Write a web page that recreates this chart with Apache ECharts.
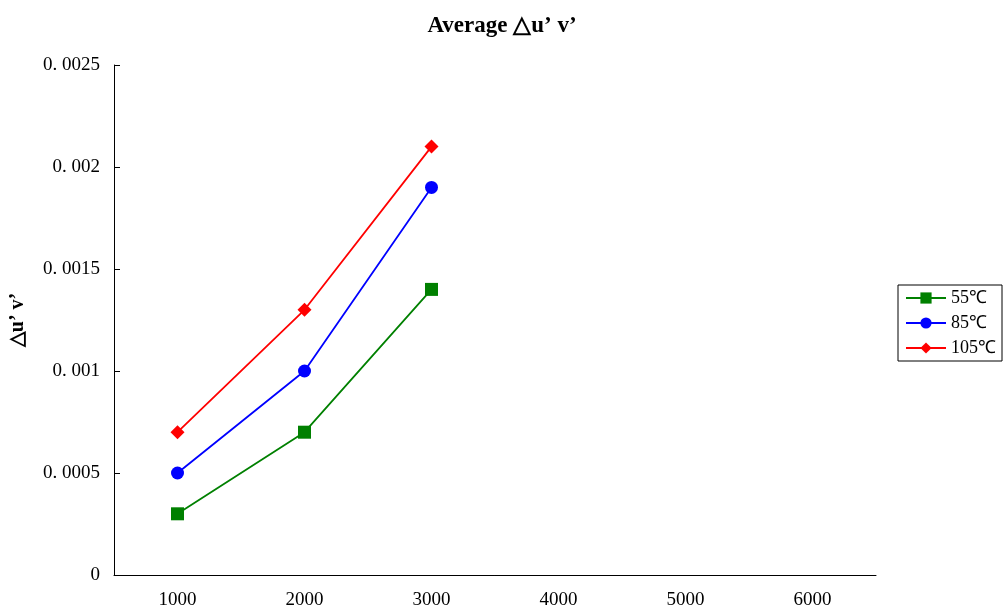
<!DOCTYPE html>
<html>
<head>
<meta charset="utf-8">
<script src="https://cdn.jsdelivr.net/npm/echarts@6/dist/echarts.min.js"></script>
<style>html,body{margin:0;padding:0;background:#fff;}#c{width:1004px;height:613px;}</style>
</head>
<body>
<div id="c"></div>
<script>
var categories = ['1000', '2000', '3000', '4000', '5000', '6000'];
var s55 = [0.0003, 0.0007, 0.0014];
var s85 = [0.0005, 0.001, 0.0019];
var s105 = [0.0007, 0.0013, 0.0021];
var seriesNames = ['55℃', '85℃', '105℃'];
var yTicks = [0, 0.0005, 0.001, 0.0015, 0.002, 0.0025];
var yTickLabels = ['0', '0. 0005', '0. 001', '0. 0015', '0. 002', '0. 0025'];

var font = 'Liberation Serif';
var chart = echarts.init(document.getElementById('c'));
function mk(name, data, color, symbol, size) {
  return {
    name: name, type: 'line', data: data, symbol: symbol, symbolSize: size,
    lineStyle: {color: color, width: 1.8}, itemStyle: {color: color},
    emphasis: {disabled: true}, animation: false
  };
}
chart.setOption({
  animation: false,
  title: {
    text: 'Average △u’ v’', left: 'center', top: 10,
    textStyle: {fontFamily: font, fontSize: 23, fontWeight: 'bold', color: '#000'}
  },
  legend: {
    orient: 'vertical', left: 898, top: 285, itemGap: 7, padding: [4, 6, 4, 7],
    borderColor: '#000', borderWidth: 1, itemWidth: 40, itemHeight: 14,
    textStyle: {fontFamily: font, fontSize: 18, color: '#000', lineHeight: 18},
    data: seriesNames
  },
  grid: {left: 114, right: 128, top: 65, bottom: 38, containLabel: false, outerBoundsMode: 'none'},
  xAxis: {
    type: 'category', data: categories, boundaryGap: true,
    axisLine: {lineStyle: {color: '#000', width: 1}},
    axisTick: {inside: true, length: 6, lineStyle: {color: '#000'}},
    axisLabel: {fontFamily: font, fontSize: 19, color: '#000', margin: 16},
    splitLine: {show: false}
  },
  yAxis: {
    type: 'value', min: 0, max: 0.0025, interval: 0.0005,
    name: '△u’ v’', nameLocation: 'middle', nameGap: 86, nameRotate: 90,
    nameTextStyle: {fontFamily: font, fontSize: 20, fontWeight: 'bold', color: '#000'},
    axisLine: {show: true, lineStyle: {color: '#000', width: 1}},
    axisTick: {show: true, inside: true, length: 6, lineStyle: {color: '#000'}},
    axisLabel: {fontFamily: font, fontSize: 19, color: '#000', margin: 14,
      formatter: function (v) {
        for (var i = 0; i < yTicks.length; i++) if (Math.abs(yTicks[i] - v) < 1e-9) return yTickLabels[i];
        return '';
      }},
    splitLine: {show: false}
  },
  series: [
    mk(seriesNames[0], s55, '#008000', 'rect', 13),
    mk(seriesNames[1], s85, '#0000FF', 'circle', 13),
    mk(seriesNames[2], s105, '#FF0000', 'diamond', 14)
  ]
});
</script>
</body>
</html>
